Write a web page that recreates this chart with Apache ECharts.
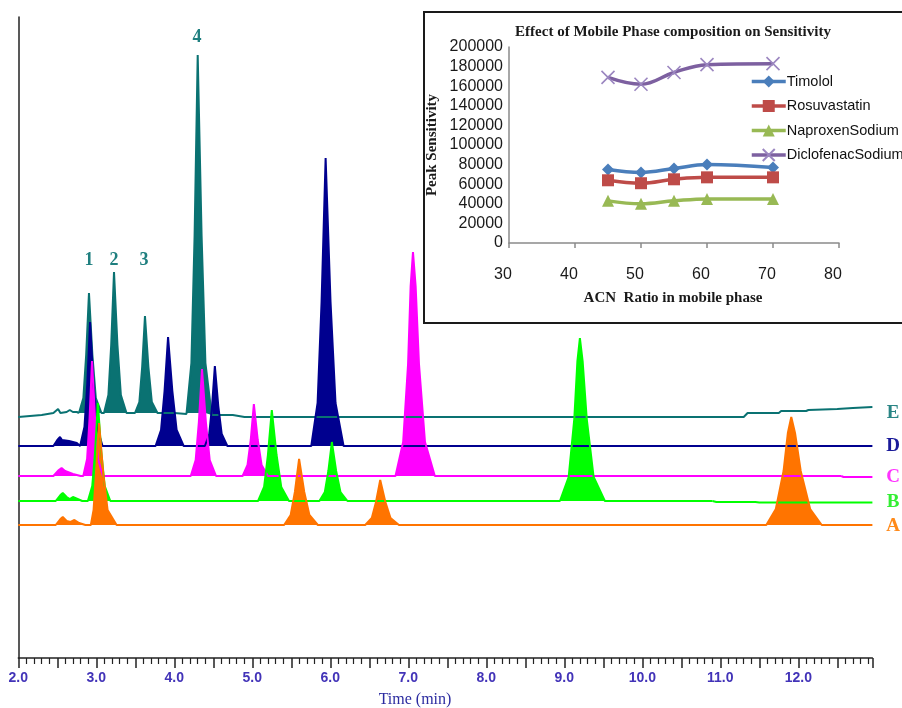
<!DOCTYPE html>
<html>
<head>
<meta charset="utf-8">
<script src="https://cdn.jsdelivr.net/npm/echarts@6/dist/echarts.min.js"></script>
<style>html,body{margin:0;padding:0;background:#fff;}#c{width:902px;height:708px;}</style>
</head>
<body>
<div id="c"></div>
<script>
// ---------- Main chromatogram data (time in min, signal above own baseline) ----------
const timeTickValues = [2, 3, 4, 5, 6, 7, 8, 9, 10, 11, 12];
const traceNames = ['E', 'D', 'C', 'B', 'A'];
const traceOffsets = [241, 212, 182, 157, 133];
const peakLabels = ['1', '2', '3', '4'];

// E : lead-in wiggles, peak region, drifting tail
const traceELead = [[2.0,0],[2.3,2],[2.45,4],[2.51,8],[2.54,4],[2.62,5],[2.66,7],[2.70,5],[2.75,5],[2.778,4]];
const traceEPeaks = [[2.778,4],[2.834,19],[2.870,62],[2.906,124],[2.950,62],[2.994,19],[3.066,4],
  [3.099,4],[3.155,22],[3.191,72],[3.227,145],[3.271,72],[3.315,22],[3.387,4],
  [3.496,4],[3.552,15],[3.588,50],[3.624,101],[3.668,50],[3.712,15],[3.784,4],
  [4.0,4],[4.156,3],[4.219,54],[4.260,181],[4.300,362],[4.350,181],[4.399,54],[4.480,2]];
const traceETail = [[4.480,2],[4.75,2],[4.9,0],[6.88,0],[6.9,-1],[6.95,0],[11.3,0],[11.35,4],[11.75,4],[11.78,6],
  [12.1,6],[12.13,7],[12.5,8],[12.7,9],[12.95,10]];

const traceD = [[2.0,0],[2.45,0],[2.50,6],[2.535,9],[2.56,6],[2.65,5],[2.75,3],[2.792,0],
  [2.848,19],[2.884,62],[2.920,124],[2.964,62],[3.008,19],[3.080,0],
  [3.760,0],[3.830,16],[3.875,55],[3.920,109],[3.975,55],[4.030,16],[4.120,0],
  [4.392,0],[4.448,12],[4.484,40],[4.520,80],[4.564,40],[4.608,12],[4.680,0],
  [5.756,0],[5.837,43],[5.888,144],[5.940,288],[6.003,144],[6.067,43],[6.170,0],
  [12.95,0]];

const traceC = [[2.0,0],[2.45,0],[2.52,6],[2.555,8],[2.60,5],[2.70,2],[2.80,0],
  [2.833,0],[2.882,17],[2.914,58],[2.945,115],[2.984,58],[3.022,17],[3.085,0],
  [4.211,0],[4.274,16],[4.315,54],[4.355,107],[4.405,54],[4.454,16],[4.535,0],
  [4.876,0],[4.939,11],[4.980,36],[5.020,72],[5.070,36],[5.119,11],[5.200,0],
  [6.836,0],[6.934,34],[6.997,112],[7.030,190],[7.060,224],[7.094,190],[7.137,112],[7.214,34],[7.340,0],
  [12.55,0]];
const traceCTail = [[12.55,0],[12.58,-1],[12.95,-1]];

const traceB = [[2.0,0],[2.48,0],[2.54,6],[2.57,8],[2.62,4],[2.66,2],[2.70,4],[2.76,2],[2.82,0],
  [2.892,0],[2.948,15],[2.984,49],[3.020,98],[3.064,49],[3.108,15],[3.180,0],
  [5.074,0],[5.151,14],[5.200,46],[5.250,91],[5.311,46],[5.371,14],[5.470,0],
  [5.860,0],[5.930,9],[5.975,30],[6.020,59],[6.075,30],[6.130,9],[6.220,0],
  [8.944,0],[9.056,24],[9.128,82],[9.168,140],[9.200,163],[9.235,140],[9.288,82],[9.376,24],[9.520,0],
  [10.9,0]];
const traceBTail = [[10.9,0],[10.95,-1],[11.45,-1],[11.5,-1.5],[12.95,-1.5]];

const traceA = [[2.0,0],[2.48,0],[2.54,6],[2.57,8],[2.62,4],[2.67,3],[2.72,5],[2.78,2],[2.86,0],
  [2.930,0],[2.965,15],[2.995,51],[3.035,102],[3.090,51],[3.145,15],[3.260,0],
  [5.408,0],[5.492,10],[5.546,33],[5.600,66],[5.666,33],[5.732,10],[5.840,0],
  [6.448,0],[6.532,7],[6.586,23],[6.640,45],[6.706,23],[6.772,7],[6.880,0],
  [11.590,0],[11.712,16],[11.811,54],[11.866,92],[11.910,108],[11.958,92],[12.031,54],[12.152,16],[12.300,0],
  [12.95,0]];

const traceColors = ['#0a7272', '#00008f', '#ff00ff', '#00ff00', '#ff7400'];
const labelColors = ['#2a8585', '#1a1a99', '#ff33ff', '#33ee33', '#ff8a1a'];

// ---------- Inset data ----------
const acnRatio = [45, 50, 55, 60, 70];
const timolol = [75000, 72000, 76000, 80000, 77000];
const rosuvastatin = [64000, 61000, 65000, 67000, 67000];
const naproxen = [43000, 40000, 43000, 45000, 45000];
const diclofenac = [169000, 162000, 174000, 182000, 183000];
const insetNames = ['Timolol', 'Rosuvastatin', 'NaproxenSodium', 'DiclofenacSodium'];
const insetColors = ['#4a7ebb', '#be4b48', '#98b954', '#7d60a0'];

const chart = echarts.init(document.getElementById('c'), null, {renderer: 'canvas'});

// segments: [traceIndex, data, fillBaselineLift or null]
const segments = [
  [0, traceELead, null], [0, traceEPeaks, 4], [0, traceETail, null],
  [1, traceD, 0],
  [2, traceC, 0], [2, traceCTail, null],
  [3, traceB, 0], [3, traceBTail, null],
  [4, traceA, 0]
];

const mainSeries = segments.map(([ti, data, lift]) => {
  const off = traceOffsets[ti];
  const s = {
    name: traceNames[ti], type: 'line', xAxisIndex: 0, yAxisIndex: 0,
    data: data.map(p => [p[0], p[1] + off]),
    symbol: 'none', silent: true,
    lineStyle: {color: traceColors[ti], width: 2},
    z: 2
  };
  if (lift !== null) s.areaStyle = {color: traceColors[ti], opacity: 1, origin: off + lift};
  return s;
});

const insetData = [timolol, rosuvastatin, naproxen, diclofenac];
const insetSymbols = ['diamond', 'rect', 'triangle', 'path://M0,0L10,10M10,0L0,10'];
const insetSeries = insetData.map((vals, i) => ({
  name: insetNames[i], type: 'line', xAxisIndex: 1, yAxisIndex: 1,
  data: vals.map((v, j) => [acnRatio[j], v]),
  smooth: 0.4,
  symbol: insetSymbols[i],
  symbolSize: i === 3 ? 13 : 12,
  lineStyle: {color: insetColors[i], width: 3.5},
  itemStyle: i === 3 ? {color: '#9b86c0', borderColor: '#9b86c0', borderWidth: 1.6} : {color: insetColors[i]},
  z: 5
}));

const serif = '"Liberation Serif", "Times New Roman", serif';
const sans = '"Liberation Sans", Arial, sans-serif';

const texts = [];
const peakPos = [[89, 260], [114, 260], [144, 260], [197, 37]];
peakLabels.forEach((l, i) => texts.push({type: 'text', x: peakPos[i][0], y: peakPos[i][1], z: 10,
  style: {text: l, fill: '#1f7f7f', font: 'bold 18px ' + serif, textAlign: 'center', textVerticalAlign: 'middle'}}));
const traceLabelY = [413, 446, 477, 502, 526];
traceNames.forEach((n, i) => texts.push({type: 'text', x: 893, y: traceLabelY[i], z: 10,
  style: {text: n, fill: labelColors[i], font: 'bold 19px ' + serif, textAlign: 'center', textVerticalAlign: 'middle'}}));

chart.setOption({
  animation: false,
  backgroundColor: '#fff',
  grid: [
    {left: 18.3, right: 29.6, top: 17, bottom: 50},
    {left: 509, right: 63, top: 47, bottom: 465}
  ],
  legend: {
    data: insetNames, orient: 'vertical', left: 745, top: 69,
    itemWidth: 34, itemHeight: 15, itemGap: 9.5, selectedMode: false,
    lineStyle: {width: 3.5},
    textStyle: {fontFamily: sans, fontSize: 14.5, color: '#111', padding: [0, 0, 0, -4]}
  },
  xAxis: [
    {
      type: 'value', gridIndex: 0, min: 2, max: 12.95, interval: 0.5,
      axisLine: {show: true, lineStyle: {color: '#222', width: 1.5}},
      axisTick: {show: true, length: 10, lineStyle: {color: '#222', width: 1.5}},
      minorTick: {show: true, splitNumber: 5, length: 6, lineStyle: {color: '#222', width: 1.2}},
      splitLine: {show: false},
      axisLabel: {
        margin: 13, color: '#4233b8', fontFamily: '"Liberation Sans Narrow", "Liberation Sans", Arial',
        fontWeight: 'bold', fontSize: 14,
        formatter: v => timeTickValues.indexOf(v) >= 0 ? v.toFixed(1) : ''
      }
    },
    {
      type: 'value', gridIndex: 1, min: 30, max: 80, interval: 10,
      axisLine: {show: true, lineStyle: {color: '#8a8a8a', width: 1.5}},
      axisTick: {show: true, length: 5, lineStyle: {color: '#8a8a8a', width: 1.5}},
      splitLine: {show: false},
      axisLabel: {margin: 24, color: '#1a1a1a', fontFamily: sans, fontSize: 16, padding: [0, 12, 0, 0]}
    }
  ],
  yAxis: [
    {
      type: 'value', gridIndex: 0, min: 0, max: 641,
      axisLine: {show: true, lineStyle: {color: '#222', width: 1.5}},
      axisTick: {show: false}, axisLabel: {show: false}, splitLine: {show: false}
    },
    {
      type: 'value', gridIndex: 1, min: 0, max: 200000, interval: 20000,
      axisLine: {show: true, lineStyle: {color: '#8a8a8a', width: 1.5}},
      axisTick: {show: false},
      splitLine: {show: false},
      axisLabel: {margin: 6, color: '#1a1a1a', fontFamily: sans, fontSize: 16, formatter: v => String(v)}
    }
  ],
  graphic: [
    {type: 'rect', shape: {x: 424, y: 12, width: 490, height: 311}, z: -10,
      style: {fill: '#fff', stroke: '#1a1a1a', lineWidth: 2}},
    {type: 'text', x: 673, y: 32, z: 10,
      style: {text: 'Effect of Mobile Phase composition on Sensitivity', fill: '#1a1a1a',
        font: 'bold 15px ' + serif, textAlign: 'center', textVerticalAlign: 'middle'}},
    {type: 'text', x: 432, y: 145, rotation: Math.PI / 2, z: 10,
      style: {text: 'Peak Sensitivity', fill: '#1a1a1a', font: 'bold 15px ' + serif,
        textAlign: 'center', textVerticalAlign: 'middle'}},
    {type: 'text', x: 673, y: 298, z: 10,
      style: {text: 'ACN  Ratio in mobile phase', fill: '#1a1a1a', font: 'bold 15px ' + serif,
        textAlign: 'center', textVerticalAlign: 'middle'}},
    {type: 'text', x: 415, y: 700, z: 10,
      style: {text: 'Time (min)', fill: '#2b2ba0', font: '16px ' + serif,
        textAlign: 'center', textVerticalAlign: 'middle'}}
  ].concat(texts),
  series: mainSeries.concat(insetSeries)
});
</script>
</body>
</html>
